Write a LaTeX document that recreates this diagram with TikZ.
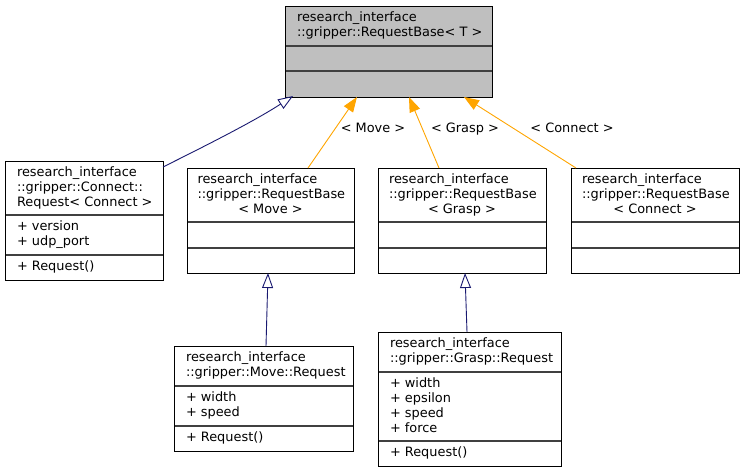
\documentclass[tikz,border=0pt]{standalone}
\usepackage{fontspec}
\setmainfont{DejaVu Sans}
\usetikzlibrary{arrows.meta}
\definecolor{navy}{HTML}{191970}
\definecolor{edgeorange}{HTML}{FFA500}
\definecolor{hdrgray}{HTML}{BFBFBF}
\newcommand{\dfont}{\fontsize{12.9}{15}\selectfont}
\begin{document}
\begin{tikzpicture}[x=1pt,y=-1pt,
 umlbox/.style={draw=black, line width=0.9pt, inner sep=0pt, outer sep=0pt, anchor=north west},
 sepline/.style={draw=black!75, line width=1.3pt},
 txt/.style={anchor=north west, inner sep=0pt, outer sep=0pt, align=left, font=\dfont},
 ctxt/.style={anchor=north, inner sep=0pt, outer sep=0pt, font=\dfont},
 lbl/.style={anchor=base, inner sep=0pt, font=\dfont},
 inh/.style={draw=navy, line width=0.9pt, -{Triangle[open, length=15pt, width=11pt]}},
 tpl/.style={draw=edgeorange, line width=0.9pt, -{Triangle[length=15pt, width=11pt]}}]
\useasboundingbox (0,0) rectangle (744,472);

% top template base
\node[umlbox, fill=hdrgray, minimum width=207pt, minimum height=91pt] (base) at (285,6) {};
\draw[sepline] (285.5,46) -- (491.5,46);
\draw[sepline] (285.5,71) -- (491.5,71);
\node[txt] (basetxt) at (297,11) {\strut research\_interface\\\strut ::gripper::RequestBase< T >};

% Connect::Request
\node[umlbox, minimum width=158pt, minimum height=119pt] (cr) at (5,161) {};
\draw[sepline] (5.5,215) -- (162.5,215);
\draw[sepline] (5.5,255) -- (162.5,255);
\node[txt] (crtxt) at (17,166) {\strut research\_interface\\\strut ::gripper::Connect::\\\strut Request< Connect >};
\node[txt] (cratt) at (17,220) {\strut + version\\\strut + udp\_port};
\node[txt] (crmet) at (17,260) {\strut + Request()};

% RequestBase< Move >
\node[umlbox, minimum width=167pt, minimum height=105pt] (mb) at (187,168) {};
\draw[sepline] (187.5,222) -- (353.5,222);
\draw[sepline] (187.5,248) -- (353.5,248);
\node[txt] (mbtxt) at (197.5,173) {\strut research\_interface\\\strut ::gripper::RequestBase};
\node[ctxt] (mbarg) at (270.5,203) {\strut < Move >};

% RequestBase< Grasp >
\node[umlbox, minimum width=168pt, minimum height=105pt] (gb) at (378,168) {};
\draw[sepline] (378.5,222) -- (545.5,222);
\draw[sepline] (378.5,248) -- (545.5,248);
\node[txt] (gbtxt) at (389,173) {\strut research\_interface\\\strut ::gripper::RequestBase};
\node[ctxt] (gbarg) at (462,203) {\strut < Grasp >};

% RequestBase< Connect >
\node[umlbox, minimum width=168pt, minimum height=105pt] (cb) at (571,168) {};
\draw[sepline] (571.5,222) -- (738.5,222);
\draw[sepline] (571.5,248) -- (738.5,248);
\node[txt] (cbtxt) at (582,173) {\strut research\_interface\\\strut ::gripper::RequestBase};
\node[ctxt] (cbarg) at (655,203) {\strut < Connect >};

% Move::Request
\node[umlbox, minimum width=179pt, minimum height=105pt] (mr) at (174,346) {};
\draw[sepline] (174.5,386) -- (352.5,386);
\draw[sepline] (174.5,426) -- (352.5,426);
\node[txt] (mrtxt) at (186,351) {\strut research\_interface\\\strut ::gripper::Move::Request};
\node[txt] (mratt) at (186,391) {\strut + width\\\strut + speed};
\node[txt] (mrmet) at (186,431) {\strut + Request()};

% Grasp::Request
\node[umlbox, minimum width=183pt, minimum height=134pt] (gr) at (378,332) {};
\draw[sepline] (378.5,372) -- (560.5,372);
\draw[sepline] (378.5,441) -- (560.5,441);
\node[txt] (grtxt) at (390,337) {\strut research\_interface\\\strut ::gripper::Grasp::Request};
\node[txt] (gratt) at (390,377) {\strut + width\\\strut + epsilon\\\strut + speed\\\strut + force};
\node[txt] (grmet) at (390,446) {\strut + Request()};

% edges
\draw[inh] ([yshift=-6pt]cr.north east) .. controls ([xshift=40pt,yshift=14pt]cr.north east) and ([xshift=-32pt,yshift=-25pt]base.south west) .. ([xshift=8pt,yshift=1pt]base.south west);
\draw[tpl] ([xshift=121pt]mb.north west) -- ([xshift=72pt]base.south west);
\draw[tpl] ([xshift=61pt]gb.north west) -- ([xshift=124pt]base.south west);
\draw[tpl] ([xshift=5pt]cb.north west) -- ([xshift=179pt]base.south west);
\draw[inh] ([xshift=92pt]mr.north west) -- ([xshift=81pt]mb.south west);
\draw[inh] ([xshift=89pt]gr.north west) -- ([xshift=87pt]gb.south west);

% edge labels
\node[lbl] (lmove) at (373,132) {< Move >};
\node[lbl] (lgrasp) at (465,132) {< Grasp >};
\node[lbl] (lconn) at (572,132) {< Connect >};
\end{tikzpicture}
\end{document}
